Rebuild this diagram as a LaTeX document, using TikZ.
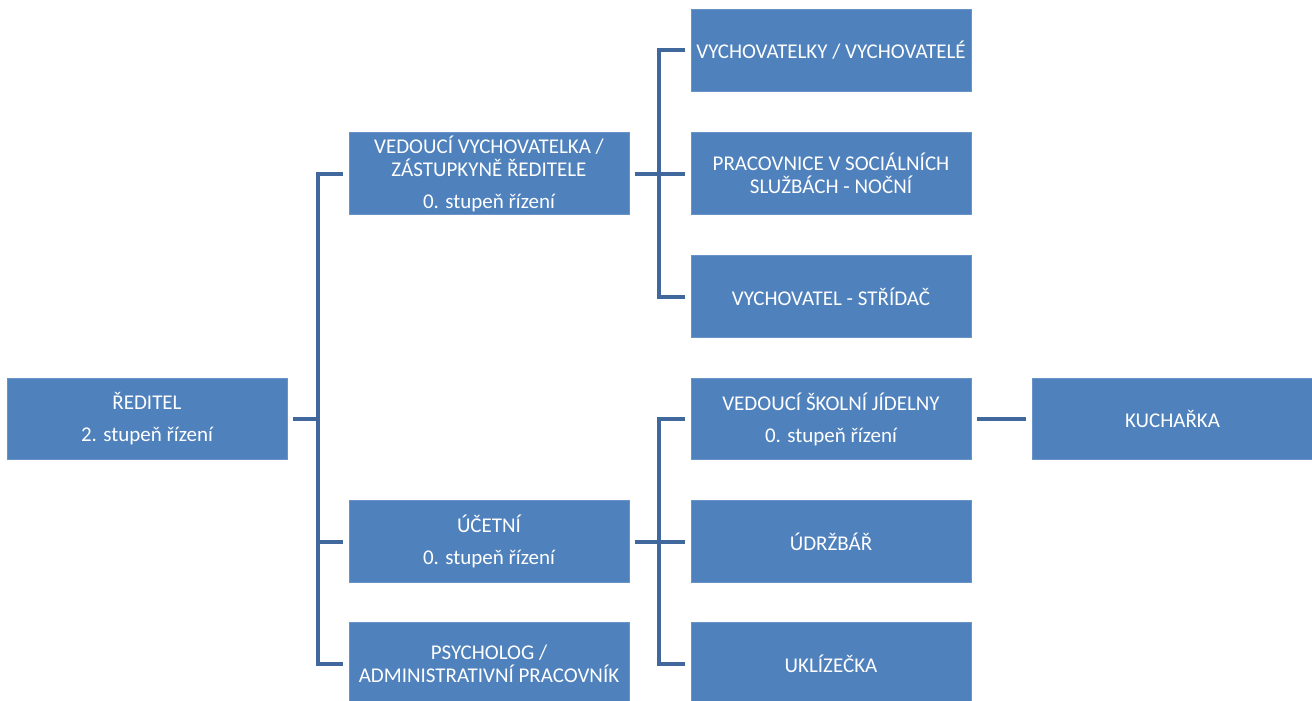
\documentclass[tikz,border=0pt]{standalone}
\usepackage{fontspec}
\setmainfont{Carlito}
\usetikzlibrary{positioning, calc}
\definecolor{boxblue}{RGB}{79,129,189}
\definecolor{linkblue}{RGB}{65,104,156}

\begin{document}
\begin{tikzpicture}[x=1pt, y=-1pt,
    unit/.style={rectangle, fill=boxblue, draw=boxblue!85!white, line width=0.8pt,
        minimum width=280pt, minimum height=81.5pt, inner sep=0pt,
        align=center, text=white, font=\fontsize{21}{23}\selectfont},
    link/.style={draw=linkblue, line width=4pt}]
    \useasboundingbox (0,0) rectangle (1312,701);

    % Top level
    \node[unit] (reditel) at (147,419) {ŘEDITEL\\[9pt]2. stupeň řízení};

    % Second level
    \node[unit] (vedouci) at (489,173.5) {VEDOUCÍ VYCHOVATELKA /\\ZÁSTUPKYNĚ ŘEDITELE\\[9pt]0. stupeň řízení};
    \node[unit] (ucetni) at (489,541.5) {ÚČETNÍ\\[9pt]0. stupeň řízení};
    \node[unit] (psycholog) at (489,663.5) {PSYCHOLOG /\\ADMINISTRATIVNÍ PRACOVNÍK};

    % Third level
    \node[unit] (vychovatelky) at (831,50.5) {VYCHOVATELKY / VYCHOVATELÉ};
    \node[unit] (pracovnice) at (831,173.5) {PRACOVNICE V SOCIÁLNÍCH\\SLUŽBÁCH - NOČNÍ};
    \node[unit] (stridac) at (831,296.5) {VYCHOVATEL - STŘÍDAČ};
    \node[unit] (jidelna) at (831,419) {VEDOUCÍ ŠKOLNÍ JÍDELNY\\[9pt]0. stupeň řízení};
    \node[unit] (udrzbar) at (831,541.5) {ÚDRŽBÁŘ};
    \node[unit] (uklizecka) at (831,663.5) {UKLÍZEČKA};
    \node[unit] (kucharka) at (1172.5,419) {KUCHAŘKA};

    % Spines
    \coordinate (spineA) at (318,0);
    \coordinate (spineB) at (659,0);

    % Ředitel to second level
    \draw[link] ([xshift=6pt]reditel.east) -- (reditel.east -| spineA);
    \draw[link] ([xshift=-6pt]vedouci.west) -| (spineA |- psycholog.west) -- ([xshift=-6pt]psycholog.west);
    \draw[link] (spineA |- ucetni.west) -- ([xshift=-6pt]ucetni.west);

    % Vedoucí vychovatelka to third level
    \draw[link] ([xshift=6pt]vedouci.east) -- ([xshift=-6pt]pracovnice.west);
    \draw[link] ([xshift=-6pt]vychovatelky.west) -| (spineB |- stridac.west) -- ([xshift=-6pt]stridac.west);

    % Účetní to third level
    \draw[link] ([xshift=6pt]ucetni.east) -- ([xshift=-6pt]udrzbar.west);
    \draw[link] ([xshift=-6pt]jidelna.west) -| (spineB |- uklizecka.west) -- ([xshift=-6pt]uklizecka.west);

    % Jídelna to kuchařka
    \draw[link] ([xshift=6pt]jidelna.east) -- ([xshift=-6pt]kucharka.west);
\end{tikzpicture}
\end{document}
